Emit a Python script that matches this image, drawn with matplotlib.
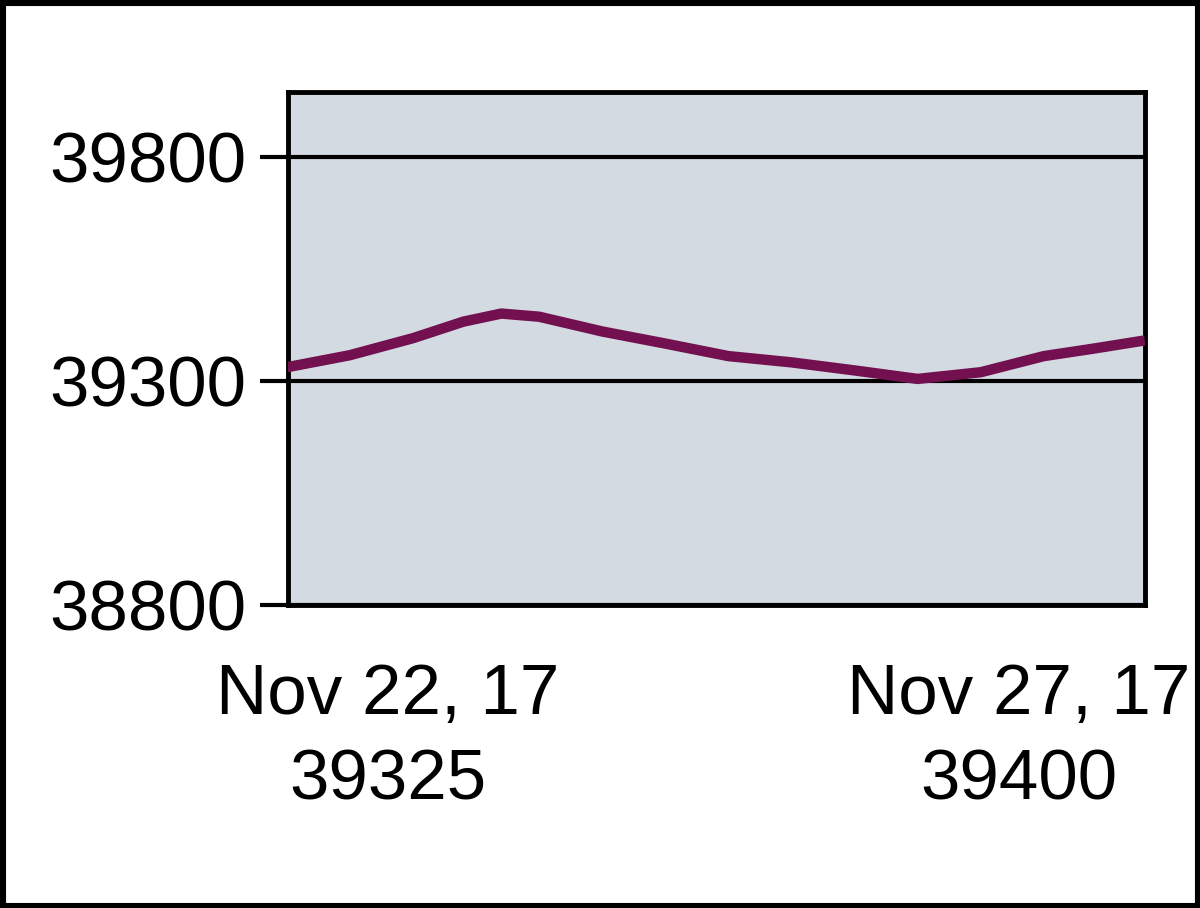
import matplotlib
matplotlib.use('Agg')
import matplotlib.pyplot as plt
from matplotlib.patches import Rectangle

# day of November (fractional) and value
days = [21.2, 21.7, 22.2, 22.6, 22.9, 23.2, 23.7, 24.2, 24.7, 25.2, 25.7, 26.2, 26.7, 27.2, 27.6, 28.0]
values = [39331, 39358, 39396, 39433, 39451, 39444, 39411, 39384, 39356, 39342, 39324, 39305, 39320, 39356, 39373, 39391]

x_ticks = [22, 27]
x_tick_labels = ['Nov 22, 17\n39325', 'Nov 27, 17\n39400']
y_ticks = [38800, 39300, 39800]

plt.rcParams['font.family'] = ['Liberation Sans', 'DejaVu Sans']

fig = plt.figure(figsize=(12, 9.08), dpi=100)
fig.patch.set_facecolor('white')
ax = fig.add_axes([0.24, 0.3337, 0.714, 0.565])
ax.set_facecolor('#d3dae2')

ax.plot(days, values, color='#73104f', lw=7.5, solid_capstyle='butt', zorder=3)

ax.set_xlim(21.21, 28.0)
ax.set_ylim(38800, 39946)
ax.set_yticks(y_ticks)
ax.set_yticklabels([str(v) for v in y_ticks])
ax.set_xticks(x_ticks)
ax.set_xticklabels(x_tick_labels, linespacing=1.38)

ax.grid(axis='y', color='black', lw=3, zorder=2)
ax.tick_params(axis='y', length=20, width=3, pad=10, labelsize=51)
ax.tick_params(axis='x', length=0, pad=42, labelsize=51)
for s in ax.spines.values():
    s.set_linewidth(3.5)
    s.set_color('black')

fig.patches.append(Rectangle((0, 0), 1, 1, transform=fig.transFigure, fill=False,
                             ec='black', lw=8, zorder=10))

fig.savefig('out.png', dpi=100)
